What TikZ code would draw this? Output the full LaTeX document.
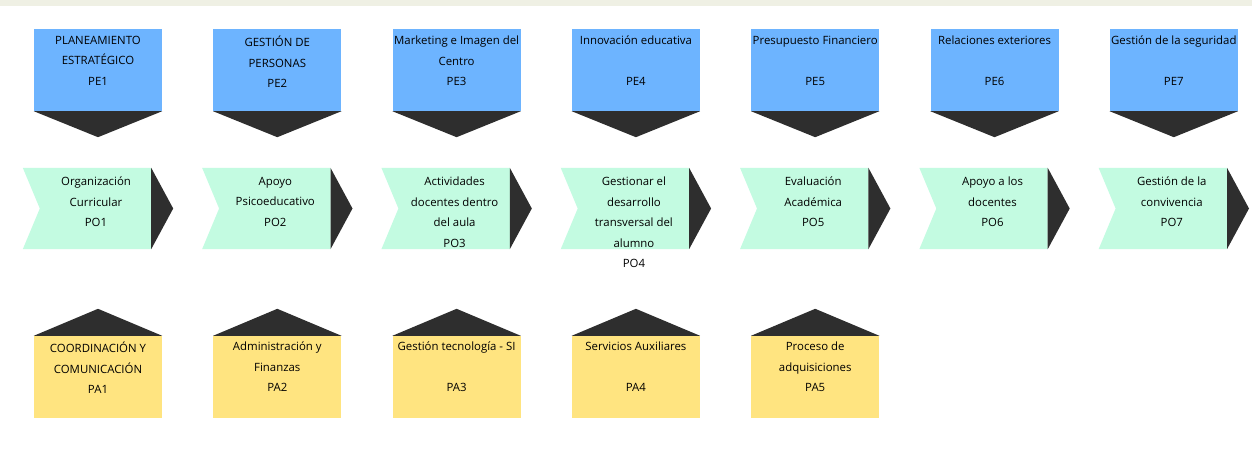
\documentclass[tikz,border=0pt]{standalone}
\usepackage{fontspec}
\setmainfont{Open Sans}
\usetikzlibrary{calc}
\definecolor{peblue}{HTML}{6DB4FF}
\definecolor{pogreen}{HTML}{C3FBE1}
\definecolor{payellow}{HTML}{FFE480}
\definecolor{tipdark}{HTML}{2E2E2E}
\definecolor{topband}{HTML}{EFF0E4}

\begin{document}
\begin{tikzpicture}[x=1pt, y=-1pt,
  box/.style={minimum width=128pt, minimum height=82pt, inner sep=0pt},
  pe/.style={box, fill=peblue},
  pa/.style={box, fill=payellow},
  po/.style={box, minimum height=81pt},
  tip/.style={fill=tipdark},
  txt/.style={font=\fontsize{11.4}{20.5}\selectfont, align=center, inner sep=0pt, anchor=north, execute at begin node=\strut}]
\useasboundingbox (0,0) rectangle (1252,468);
\fill[topband] (0,0) rectangle (1252,6);

\node[pe] (pe1) at (98,70) {};
\node[pe] (pe2) at (277.3,70) {};
\node[pe] (pe3) at (456.6,70) {};
\node[pe] (pe4) at (635.9,70) {};
\node[pe] (pe5) at (815.2,70) {};
\node[pe] (pe6) at (994.5,70) {};
\node[pe] (pe7) at (1173.8,70) {};
\fill[tip] (pe1.south west) -- (pe1.south east) -- ($(pe1.south)+(0,26)$) -- cycle;
\fill[tip] (pe2.south west) -- (pe2.south east) -- ($(pe2.south)+(0,26)$) -- cycle;
\fill[tip] (pe3.south west) -- (pe3.south east) -- ($(pe3.south)+(0,26)$) -- cycle;
\fill[tip] (pe4.south west) -- (pe4.south east) -- ($(pe4.south)+(0,26)$) -- cycle;
\fill[tip] (pe5.south west) -- (pe5.south east) -- ($(pe5.south)+(0,26)$) -- cycle;
\fill[tip] (pe6.south west) -- (pe6.south east) -- ($(pe6.south)+(0,26)$) -- cycle;
\fill[tip] (pe7.south west) -- (pe7.south east) -- ($(pe7.south)+(0,26)$) -- cycle;
\node[txt] (pe1t) at ($(pe1.north)+(0,7)$) {PLANEAMIENTO\\ESTRATÉGICO\\PE1};
\node[txt] (pe2t) at ($(pe2.north)+(0,7)$) {GESTIÓN DE\\PERSONAS\\PE2};
\node[txt] (pe3t) at ($(pe3.north)+(0,7)$) {Marketing e Imagen del\\Centro\\PE3};
\node[txt] (pe4t) at ($(pe4.north)+(0,7)$) {Innovación educativa\\\strut\\PE4};
\node[txt] (pe5t) at ($(pe5.north)+(0,7)$) {Presupuesto Financiero\\\strut\\PE5};
\node[txt] (pe6t) at ($(pe6.north)+(0,7)$) {Relaciones exteriores\\\strut\\PE6};
\node[txt] (pe7t) at ($(pe7.north)+(0,7)$) {Gestión de la seguridad\\\strut\\PE7};

\node[po] (po1) at (87,208.5) {};
\node[po] (po2) at (266.3,208.5) {};
\node[po] (po3) at (445.6,208.5) {};
\node[po] (po4) at (624.9,208.5) {};
\node[po] (po5) at (804.2,208.5) {};
\node[po] (po6) at (983.5,208.5) {};
\node[po] (po7) at (1162.8,208.5) {};
\fill[pogreen] (po1.north west) -- (po1.north east) -- (po1.south east) -- (po1.south west) -- ($(po1.west)+(17,0)$) -- cycle;
\fill[pogreen] (po2.north west) -- (po2.north east) -- (po2.south east) -- (po2.south west) -- ($(po2.west)+(17,0)$) -- cycle;
\fill[pogreen] (po3.north west) -- (po3.north east) -- (po3.south east) -- (po3.south west) -- ($(po3.west)+(17,0)$) -- cycle;
\fill[pogreen] (po4.north west) -- (po4.north east) -- (po4.south east) -- (po4.south west) -- ($(po4.west)+(17,0)$) -- cycle;
\fill[pogreen] (po5.north west) -- (po5.north east) -- (po5.south east) -- (po5.south west) -- ($(po5.west)+(17,0)$) -- cycle;
\fill[pogreen] (po6.north west) -- (po6.north east) -- (po6.south east) -- (po6.south west) -- ($(po6.west)+(17,0)$) -- cycle;
\fill[pogreen] (po7.north west) -- (po7.north east) -- (po7.south east) -- (po7.south west) -- ($(po7.west)+(17,0)$) -- cycle;
\fill[tip] (po1.north east) -- ($(po1.east)+(22,0)$) -- (po1.south east) -- cycle;
\fill[tip] (po2.north east) -- ($(po2.east)+(22,0)$) -- (po2.south east) -- cycle;
\fill[tip] (po3.north east) -- ($(po3.east)+(22,0)$) -- (po3.south east) -- cycle;
\fill[tip] (po4.north east) -- ($(po4.east)+(22,0)$) -- (po4.south east) -- cycle;
\fill[tip] (po5.north east) -- ($(po5.east)+(22,0)$) -- (po5.south east) -- cycle;
\fill[tip] (po6.north east) -- ($(po6.east)+(22,0)$) -- (po6.south east) -- cycle;
\fill[tip] (po7.north east) -- ($(po7.east)+(22,0)$) -- (po7.south east) -- cycle;
\node[txt] (po1t) at ($(po1.north)+(9,9)$) {Organización\\Curricular\\PO1};
\node[txt] (po2t) at ($(po2.north)+(9,9)$) {Apoyo\\Psicoeducativo\\PO2};
\node[txt] (po3t) at ($(po3.north)+(9,9)$) {Actividades\\docentes dentro\\del aula\\PO3};
\node[txt] (po4t) at ($(po4.north)+(9,9)$) {Gestionar el\\desarrollo\\transversal del\\alumno\\PO4};
\node[txt] (po5t) at ($(po5.north)+(9,9)$) {Evaluación\\Académica\\PO5};
\node[txt] (po6t) at ($(po6.north)+(9,9)$) {Apoyo a los\\docentes\\PO6};
\node[txt] (po7t) at ($(po7.north)+(9,9)$) {Gestión de la\\convivencia\\PO7};

\node[pa] (pa1) at (98,377) {};
\node[pa] (pa2) at (277.3,377) {};
\node[pa] (pa3) at (456.6,377) {};
\node[pa] (pa4) at (635.9,377) {};
\node[pa] (pa5) at (815.2,377) {};
\fill[tip] (pa1.north west) -- (pa1.north east) -- ($(pa1.north)+(0,-27)$) -- cycle;
\fill[tip] (pa2.north west) -- (pa2.north east) -- ($(pa2.north)+(0,-27)$) -- cycle;
\fill[tip] (pa3.north west) -- (pa3.north east) -- ($(pa3.north)+(0,-27)$) -- cycle;
\fill[tip] (pa4.north west) -- (pa4.north east) -- ($(pa4.north)+(0,-27)$) -- cycle;
\fill[tip] (pa5.north west) -- (pa5.north east) -- ($(pa5.north)+(0,-27)$) -- cycle;
\node[txt] (pa1t) at ($(pa1.north)+(0,6)$) {COORDINACIÓN Y\\COMUNICACIÓN\\PA1};
\node[txt] (pa2t) at ($(pa2.north)+(0,6)$) {Administración y\\Finanzas\\PA2};
\node[txt] (pa3t) at ($(pa3.north)+(0,6)$) {Gestión tecnología - SI\\\strut\\PA3};
\node[txt] (pa4t) at ($(pa4.north)+(0,6)$) {Servicios Auxiliares\\\strut\\PA4};
\node[txt] (pa5t) at ($(pa5.north)+(0,6)$) {Proceso de\\adquisiciones\\PA5};
\end{tikzpicture}
\end{document}
